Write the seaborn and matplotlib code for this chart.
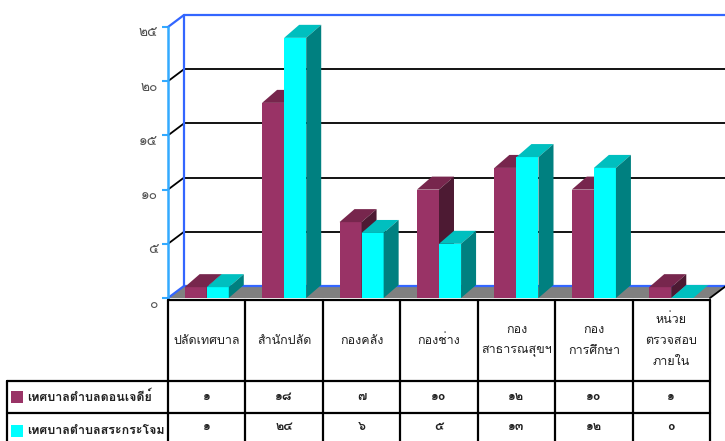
import matplotlib
matplotlib.use("Agg")
import matplotlib.pyplot as plt
from matplotlib.patches import Polygon, Rectangle
from matplotlib.lines import Line2D
import matplotlib.transforms as mtrans
import seaborn as sns
import pandas as pd

# ---------------- data ----------------
categories = ["ปลัดเทศบาล", "สำนักปลัด", "กองคลัง", "กองช่าง",
              "กอง\nสาธารณสุขฯ", "กอง\nการศึกษา", "หน่วย\nตรวจสอบ\nภายใน"]
series_names = ["เทศบาลตำบลดอนเจดีย์", "เทศบาลตำบลสระกระโจม"]
values_don = [1, 18, 7, 10, 12, 10, 1]
values_sra = [1, 24, 6, 5, 13, 12, 0]
y_ticks = [0, 5, 10, 15, 20, 25]
y_tick_labels = ["๐", "๕", "๑๐", "๑๕", "๒๐", "๒๕"]

THAI_DIGITS = "๐๑๒๓๔๕๖๗๘๙"
def thai_num(n):
    return "".join(THAI_DIGITS[int(c)] for c in str(n))

sns.set_theme(style="white")
plt.rcParams["font.family"] = ["Loma", "DejaVu Sans"]

MAROON, MAROON_TOP, MAROON_SIDE = "#993366", "#77264D", "#4D1A33"
CYAN, CYAN_TOP, CYAN_SIDE = "#00FFFF", "#00BFBF", "#008080"
FLOOR = "#808080"
WALL_BLUE = "#3366FF"
AXIS_BLUE = "#33AAFF"

W, H = 725, 441
fig = plt.figure(figsize=(W / 100, H / 100), dpi=100)
fig.patch.set_facecolor("white")

X0, X1, Y0, Y25 = 168, 710, 298, 27
ax = fig.add_axes([X0 / W, 1 - Y0 / H, (X1 - X0) / W, (Y0 - Y25) / H])
ax.set_facecolor("none")

df = pd.DataFrame({
    "category": categories * 2,
    "series": [series_names[0]] * len(categories) + [series_names[1]] * len(categories),
    "value": values_don + values_sra,
})
sns.barplot(data=df, x="category", y="value", hue="series", order=categories,
            hue_order=series_names, palette=[MAROON, CYAN], saturation=1,
            width=0.57, linewidth=0, legend=False, ax=ax)
ax.set_xlim(-0.5, 6.5)
ax.set_ylim(0, 25)

pxu_x = (X1 - X0) / 7.0
pxu_y = (Y0 - Y25) / 25.0
wdx, wdy = 16 / pxu_x, 12 / pxu_y       # wall depth
bdx, bdy = 15 / pxu_x, 13 / pxu_y       # bar depth

# floor
ax.add_patch(Polygon([(-0.5, 0), (6.5, 0), (6.5 + wdx, wdy), (-0.5 + wdx, wdy)],
                     closed=True, facecolor=FLOOR, edgecolor="none", zorder=1, clip_on=False))
ax.add_line(Line2D([6.5, 6.5 + wdx], [0, wdy], color="black", lw=1.3, zorder=1.2, clip_on=False))
# back wall
for v in y_ticks[1:-1]:
    ax.add_line(Line2D([-0.5 + wdx, 6.5 + wdx], [v + wdy, v + wdy], color="black", lw=1.3,
                       zorder=0.5, clip_on=False))
    ax.add_line(Line2D([-0.5, -0.5 + wdx], [v, v + wdy], color="black", lw=1.3,
                       zorder=0.5, clip_on=False))
ax.add_line(Line2D([-0.5 + wdx, 6.5 + wdx], [25 + wdy, 25 + wdy], color=WALL_BLUE, lw=1.6,
                   zorder=0.6, clip_on=False))
ax.add_line(Line2D([-0.5 + wdx, 6.5 + wdx], [wdy, wdy], color=WALL_BLUE, lw=1.6,
                   zorder=1.1, clip_on=False))
ax.add_line(Line2D([-0.5 + wdx, -0.5 + wdx], [wdy, 25 + wdy], color=WALL_BLUE, lw=1.6,
                   zorder=0.6, clip_on=False))
for v in (0, 25):
    ax.add_line(Line2D([-0.5, -0.5 + wdx], [v, v + wdy], color=WALL_BLUE, lw=1.6,
                       zorder=1.3, clip_on=False))

# 3-D bar faces
tops = [MAROON_TOP, CYAN_TOP]
sides = [MAROON_SIDE, CYAN_SIDE]
for h, cont in enumerate(ax.containers):
    for p in cont.patches:
        z = 2 + h
        p.set_zorder(z)
        x, w, hh = p.get_x(), p.get_width(), p.get_height()
        ax.add_patch(Polygon([(x, hh), (x + w, hh), (x + w + bdx, hh + bdy), (x + bdx, hh + bdy)],
                             closed=True, facecolor=tops[h], edgecolor="none", zorder=z + 0.1, clip_on=False))
        ax.add_patch(Polygon([(x + w, 0), (x + w, hh), (x + w + bdx, hh + bdy), (x + w + bdx, bdy)],
                             closed=True, facecolor=sides[h], edgecolor="none", zorder=z + 0.2, clip_on=False))

# axis
for s in ("top", "right", "bottom"):
    ax.spines[s].set_visible(False)
ax.spines["left"].set_color(AXIS_BLUE)
ax.spines["left"].set_linewidth(1.8)
ax.spines["left"].set_zorder(1.4)
ax.set_xticks([])
ax.set_yticks(y_ticks, y_tick_labels)
ax.tick_params(axis="y", left=True, length=4, width=1.5, color=AXIS_BLUE, pad=3,
               labelsize=10, labelcolor="#505050")
off = mtrans.ScaledTranslation(0, -5 / 100, fig.dpi_scale_trans)
for lab in ax.get_yticklabels():
    lab.set_transform(lab.get_transform() + off)
ax.set_xlabel("")
ax.set_ylabel("")

# ---------------- data table ----------------
ov = fig.add_axes([0, 0, 1, 1])
ov.set_xlim(0, W)
ov.set_ylim(H, 0)
ov.axis("off")
ov.set_zorder(5)
ov.patch.set_alpha(0)

col_x = [X0 + i * pxu_x for i in range(8)]
T_TOP, R1, R2, T_BOT = 300, 381, 413, 445
LEG_X = 7
lw = 1.6
ov.plot([col_x[0], col_x[-1]], [T_TOP, T_TOP], color="black", lw=lw)
ov.plot([LEG_X, col_x[-1]], [R1, R1], color="black", lw=lw)
ov.plot([LEG_X, col_x[-1]], [R2, R2], color="black", lw=lw)
for cx in col_x:
    ov.plot([cx, cx], [T_TOP, T_BOT], color="black", lw=lw)
ov.plot([LEG_X, LEG_X], [R1, T_BOT], color="black", lw=lw)

tfs = 9
for i, cat in enumerate(categories):
    cx = (col_x[i] + col_x[i + 1]) / 2
    ov.text(cx, (T_TOP + R1) / 2, cat, ha="center", va="center", fontsize=tfs,
            color="#202020", linespacing=2.0)
    ov.text(cx, (R1 + R2) / 2, thai_num(values_don[i]), ha="center", va="center",
            fontsize=tfs, color="#202020", fontweight="bold")
    ov.text(cx, (R2 + T_BOT - 8) / 2 + 2, thai_num(values_sra[i]), ha="center", va="center",
            fontsize=tfs, color="#202020", fontweight="bold")

for r, (yc, col) in enumerate([((R1 + R2) / 2, MAROON), ((R2 + 441) / 2 + 4, CYAN)]):
    ov.add_patch(Rectangle((11, yc - 6), 12, 12, facecolor=col, edgecolor="none"))
    ov.text(27, yc, series_names[r], ha="left", va="center", fontsize=tfs,
            color="#202020", fontweight="bold")

fig.savefig("out.png", dpi=100)
